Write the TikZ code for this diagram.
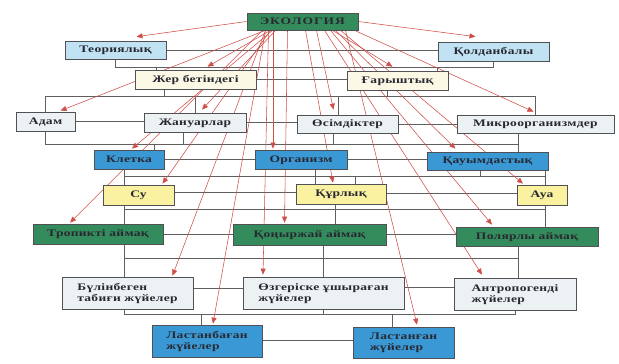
\documentclass[tikz,border=0pt]{standalone}
\usepackage{fontspec}
\setmainfont{Liberation Serif}[FakeStretch=1.35, LetterSpace=3]
\usetikzlibrary{calc,arrows.meta,backgrounds}

\definecolor{ecogreen}{RGB}{52,140,92}
\definecolor{skyblue}{RGB}{192,226,242}
\definecolor{creamy}{RGB}{252,248,230}
\definecolor{palegrey}{RGB}{236,242,243}
\definecolor{cellblue}{RGB}{58,152,212}
\definecolor{sandy}{RGB}{250,242,160}
\definecolor{arrowred}{RGB}{206,78,72}
\definecolor{linegrey}{RGB}{95,95,95}
\definecolor{boxedge}{RGB}{80,80,85}
\definecolor{inkgrey}{RGB}{40,40,50}

\begin{document}
\begin{tikzpicture}[x=1pt,y=-1pt,
		box/.style={draw=boxedge, line width=0.7pt, inner sep=2pt, text=inkgrey,
			font=\fontsize{10}{11}\bfseries, align=left, text height=7pt, text depth=1.5pt},
		twoline/.style={text height=18pt, text depth=1.5pt},
		greenbox/.style={box, fill=ecogreen},
		skybox/.style={box, fill=skyblue},
		creambox/.style={box, fill=creamy},
		greybox/.style={box, fill=palegrey},
		bluebox/.style={box, fill=cellblue},
		sandbox/.style={box, fill=sandy},
		treeline/.style={draw=linegrey, line width=0.6pt},
		redarrow/.style={draw=arrowred, line width=0.55pt, -{Triangle[width=5pt,length=6pt]}}]
		\newcommand{\ecobox}[7]{ % #1: style, #2: width, #3: height, #4: x-coordinate, #5: y-coordinate, #6: name, #7: text
			\node[#1, minimum width=#2, minimum height=#3] (#6) at (#4,#5) {#7};
		}
		
		\useasboundingbox (0,0) rectangle (619,364);
		
		\ecobox{greenbox}{111pt}{17pt}{302.5}{21.5}{eco}{\addfontfeature{LetterSpace=10}ЭКОЛОГИЯ}
		
		\ecobox{skybox}{101pt}{18pt}{115.5}{50}{teor}{Теориялық}
		\ecobox{skybox}{111pt}{19pt}{493.5}{51.5}{qold}{Қолданбалы}
		
		\ecobox{creambox}{121pt}{19pt}{195.5}{79.5}{jer}{Жер бетіндегі}
		\ecobox{creambox}{101pt}{19pt}{397.5}{80.5}{ghar}{Ғарыштық}
		
		\ecobox{greybox}{59pt}{19pt}{45.5}{121.5}{adam}{Адам}
		\ecobox{greybox}{102pt}{19pt}{195}{122.5}{januar}{Жануарлар}
		\ecobox{greybox}{101pt}{18pt}{347.5}{124}{osim}{Өсімдіктер}
		\ecobox{greybox}{157pt}{18pt}{535.5}{124}{micro}{Микроорганизмдер}
		
		\ecobox{bluebox}{70pt}{19pt}{129}{159.5}{kletka}{Клетка}
		\ecobox{bluebox}{92pt}{19pt}{301}{159.5}{organ}{Организм}
		\ecobox{bluebox}{121pt}{18pt}{487.5}{161}{qauym}{Қауымдастық}
		
		\ecobox{sandbox}{71pt}{20pt}{138.5}{195}{su}{Су}
		\ecobox{sandbox}{90pt}{20pt}{341}{194}{qurl}{Құрлық}
		\ecobox{sandbox}{50pt}{20pt}{542}{195}{aua}{Ауа}
		
		\ecobox{greenbox}{130pt}{20pt}{98}{234}{trop}{Тропикті аймақ}
		\ecobox{greenbox}{153pt}{21pt}{309.5}{234.5}{qonyr}{Қоңыржай аймақ}
		\ecobox{greenbox}{142pt}{19pt}{527}{236.5}{polar}{Полярлы аймақ}
		
		\ecobox{greybox,twoline}{131pt}{32pt}{127.5}{293}{bulin}{Бүлінбеген\\табиғи жүйелер}
		\ecobox{greybox,twoline}{161pt}{32pt}{323.5}{293}{ozger}{Өзгеріске ұшыраған\\жүйелер}
		\ecobox{greybox,twoline}{122pt}{32pt}{515}{294}{antrop}{Антропогенді\\жүйелер}
		
		\ecobox{bluebox,twoline}{110pt}{32pt}{207}{341}{lastanb}{Ластанбаған\\жүйелер}
		\ecobox{bluebox,twoline}{101pt}{31pt}{403.5}{342.5}{lastang}{Ластанған\\жүйелер}
		
		%levels of the grey tree
		\coordinate (bus1) at (0,67);
		\coordinate (bus2) at (0,96);
		\coordinate (bus3) at (0,144);
		\coordinate (bus4) at (0,176);
		\coordinate (bus5) at (0,209);
		\coordinate (bus6) at (0,258);
		\coordinate (bus7) at (0,314);
		
		\begin{pgfonlayer}{background}
			%grey tree lines
			\draw[treeline] (teor.east) -- (teor.east -| qold.west);
			\draw[treeline] (teor.south) -- (teor.south |- bus1) -- (qold.south |- bus1) -- (qold.south);
			\draw[treeline] ([xshift=-39.5pt]jer.north |- bus1) -- ([xshift=-39.5pt]jer.north);
			\draw[treeline] ([xshift=39.5pt]ghar.north |- bus1) -- ([xshift=39.5pt]ghar.north);
			
			\draw[treeline] (jer.east) -- (jer.east -| ghar.west);
			\draw[treeline] (adam.north) -- (adam.north |- bus2) -- (micro.north |- bus2) -- (micro.north);
			\draw[treeline] ([xshift=-31.5pt]jer.south) -- ([xshift=-31.5pt]jer.south |- bus2);
			\draw[treeline] ([xshift=-10.5pt]ghar.south) -- ([xshift=-10.5pt]ghar.south |- bus2);
			\draw[treeline] (januar.north |- bus2) -- (januar.north);
			\draw[treeline] ([xshift=-9.5pt]osim.north |- bus2) -- ([xshift=-9.5pt]osim.north);
			
			\draw[treeline] (adam.east) -- (adam.east -| januar.west);
			\draw[treeline] (januar.east) -- (januar.east -| osim.west);
			\draw[treeline] (osim.east) -- (osim.east -| micro.west);
			\draw[treeline] (adam.south) -- (adam.south |- bus3) -- ([xshift=-17.5pt]micro.south |- bus3);
			\draw[treeline] ([xshift=-17.5pt]micro.south) -- ([xshift=-17.5pt]micro.south |- qauym.north);
			\draw[treeline] ([xshift=-12pt]januar.south) -- ([xshift=-12pt]januar.south |- bus3);
			\draw[treeline] ([xshift=-14.5pt]osim.south) -- ([xshift=-14.5pt]osim.south |- bus3);
			\draw[treeline] ([xshift=25pt]kletka.north |- bus3) -- ([xshift=25pt]kletka.north);
			
			\draw[treeline] (kletka.east) -- (kletka.east -| organ.west);
			\draw[treeline] (organ.east) -- (organ.east -| qauym.west);
			\draw[treeline] ([xshift=-5pt]kletka.south) -- ([xshift=-5pt]kletka.south |- bus7);
			\draw[treeline] ([xshift=57.5pt]qauym.south) -- ([xshift=57.5pt]qauym.south |- polar.north);
			\draw[treeline] ([xshift=-5pt]kletka.south |- bus4) -- ([xshift=57.5pt]qauym.south |- bus4);
			\draw[treeline] ([xshift=14pt]organ.south) -- ([xshift=14pt]organ.south |- bus4);
			\draw[treeline] ([xshift=-7.5pt]qauym.south) -- ([xshift=-7.5pt]qauym.south |- bus4);
			\draw[treeline] ([xshift=-26pt]qurl.north |- bus4) -- ([xshift=-26pt]qurl.north);
			\draw[treeline] ([xshift=14pt]qurl.north |- bus4) -- ([xshift=14pt]qurl.north);
			
			\draw[treeline] ([yshift=3pt]su.east) -- ([yshift=3pt]su.east -| qurl.west);
			\draw[treeline] ([yshift=1pt]qurl.east) -- ([yshift=1pt]qurl.east -| aua.west);
			\draw[treeline] ([xshift=-5pt]kletka.south |- bus5) -- ([xshift=57.5pt]qauym.south |- bus5);
			\draw[treeline] ([xshift=-6pt]qurl.south) -- ([xshift=-6pt]qurl.south |- qonyr.north);
			
			\draw[treeline] (trop.east) -- (trop.east -| qonyr.west);
			\draw[treeline] (qonyr.east) -- (qonyr.east -| polar.west);
			\draw[treeline] ([xshift=-5pt]kletka.south |- bus6) -- ([xshift=-9pt]polar.south |- bus6);
			\draw[treeline] ([xshift=13.5pt]qonyr.south) -- ([xshift=13.5pt]qonyr.south |- ozger.north);
			\draw[treeline] ([xshift=-9pt]polar.south) -- ([xshift=-9pt]polar.south |- antrop.north);
			
			\draw[treeline] ([yshift=5pt]bulin.east) -- ([yshift=5pt]bulin.east -| ozger.west);
			\draw[treeline] ([yshift=6pt]ozger.east) -- ([yshift=6pt]ozger.east -| antrop.west);
			\draw[treeline] ([xshift=-5pt]kletka.south |- bus7) -- (antrop.south |- bus7) -- (antrop.south);
			\draw[treeline] (ozger.south) -- (ozger.south |- bus7);
			\draw[treeline] ([xshift=-6pt]lastanb.north |- bus7) -- ([xshift=-6pt]lastanb.north);
			\draw[treeline] ([xshift=-11.5pt]lastang.north |- bus7) -- ([xshift=-11.5pt]lastang.north);
			
			\draw[treeline] ([yshift=1pt]lastanb.east) -- ([yshift=1pt]lastanb.east -| lastang.west);
			
			%red arrows from the top box
			\draw[redarrow] (eco.west) -- ([xshift=21pt,yshift=4pt]teor.north);
			\draw[redarrow] (eco.east) -- ([xshift=-18pt,yshift=5pt]qold.north);
			\foreach \from/\to/\dx/\dy in {-32/jer/12/3, 30/ghar/-5/4, -37/adam/15/1,
				-27/januar/7/3, 14/osim/-14/5, 52/micro/-2/3, -30/kletka/3/1,
				-29.5/organ/-28/1, 33/qauym/-32/3, -32/su/24/1, 3/qurl/-8/1,
				38/aua/-19/1, -40/trop/-28/1, -15/qonyr/-25/1, 28/polar/-35/2,
				-37/bulin/45/1, -34/ozger/-60.5/2, 22/antrop/-33/3, -37/lastanb/6/1,
				43/lastang/13.5/2}
			\draw[redarrow] ([xshift=\from pt]eco.south) -- ([xshift=\dx pt,yshift=\dy pt]\to.north);
		\end{pgfonlayer}
		
	\end{tikzpicture}
\end{document}
